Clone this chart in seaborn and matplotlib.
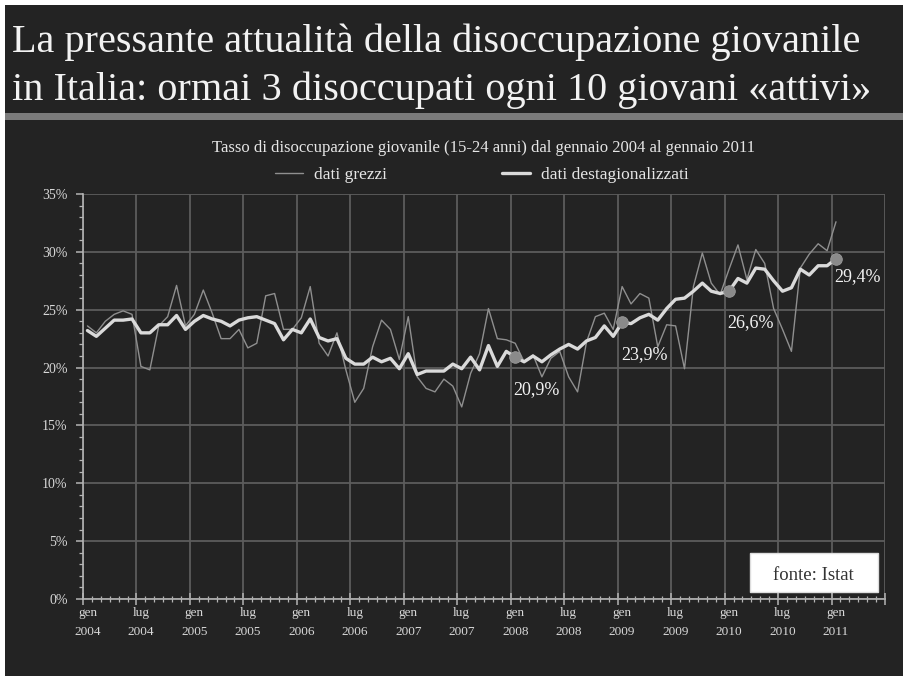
import numpy as np
import pandas as pd
import matplotlib
matplotlib.use("Agg")
import matplotlib.pyplot as plt
from matplotlib.patches import Rectangle
from matplotlib.ticker import MultipleLocator, FixedLocator, NullFormatter, FuncFormatter
import seaborn as sns

# ---------------- data ----------------
title_lines = ["La pressante attualità della disoccupazione giovanile",
               "in Italia: ormai 3 disoccupati ogni 10 giovani «attivi»"]
subtitle = "Tasso di disoccupazione giovanile (15-24 anni) dal gennaio 2004 al gennaio 2011"
series_names = ["dati grezzi", "dati destagionalizzati"]
source_note = "fonte: Istat"

month_abbr = ["gen", "feb", "mar", "apr", "mag", "giu",
              "lug", "ago", "set", "ott", "nov", "dic"]
start_year = 2004
axis_months = 90          # axis runs gen 2004 .. giu 2011
label_every = 6           # tick label every 6 months

raw = [23.6, 23.0, 24.0, 24.6, 24.9, 24.6, 20.1, 19.8, 23.6, 24.4, 27.1, 23.6,
       24.6, 26.7, 24.7, 22.5, 22.5, 23.3, 21.7, 22.1, 26.2, 26.4, 23.3, 23.3,
       24.3, 27.0, 22.1, 21.0, 23.0, 19.8, 17.0, 18.2, 21.8, 24.1, 23.3, 20.7,
       24.4, 19.2, 18.2, 17.9, 19.0, 18.4, 16.6, 19.5, 21.2, 25.1, 22.5, 22.4,
       22.1, 20.5, 21.1, 19.2, 20.8, 21.4, 19.2, 17.9, 22.2, 24.4, 24.7, 23.3,
       27.0, 25.5, 26.4, 26.0, 21.8, 23.7, 23.6, 19.9, 27.0, 29.9, 27.3, 26.3,
       28.5, 30.6, 27.6, 30.2, 29.0, 25.1, 23.3, 21.4, 28.6, 29.8, 30.7, 30.1,
       32.6]
destag = [23.2, 22.7, 23.4, 24.1, 24.1, 24.2, 23.0, 23.0, 23.7, 23.7, 24.5, 23.3,
          24.0, 24.5, 24.2, 24.0, 23.6, 24.1, 24.3, 24.4, 24.1, 23.8, 22.4, 23.3,
          23.0, 24.2, 22.6, 22.3, 22.5, 20.8, 20.3, 20.3, 20.9, 20.5, 20.8, 19.9,
          21.2, 19.4, 19.7, 19.7, 19.7, 20.3, 19.9, 20.9, 19.8, 21.9, 20.1, 21.4,
          20.9, 20.5, 21.0, 20.5, 21.1, 21.6, 22.0, 21.6, 22.3, 22.6, 23.6, 22.7,
          23.9, 23.8, 24.3, 24.6, 24.1, 25.1, 25.9, 26.0, 26.6, 27.3, 26.6, 26.4,
          26.6, 27.7, 27.3, 28.6, 28.5, 27.5, 26.6, 26.9, 28.5, 28.0, 28.8, 28.8,
          29.4]
highlight_months = ["gen 2008", "gen 2009", "gen 2010", "gen 2011"]

# ---------------- derived tables ----------------
month_names = [f"{month_abbr[i % 12]} {start_year + i // 12}" for i in range(len(raw))]
df = pd.DataFrame({
    "mese": month_names * 2,
    "pos": list(range(len(raw))) * 2,
    "valore": raw + destag,
    "serie": [series_names[0]] * len(raw) + [series_names[1]] * len(destag),
})
hl = df[(df["serie"] == series_names[1]) & (df["mese"].isin(highlight_months))].copy()
hl["label"] = hl["valore"].map(lambda v: f"{v:.1f}".replace(".", ",") + "%")

# ---------------- style ----------------
BG = "#232323"
sns.set_style("dark", {"axes.facecolor": BG, "figure.facecolor": BG})
plt.rcParams["font.family"] = ["Liberation Serif", "DejaVu Serif"]
plt.rcParams["axes.unicode_minus"] = False

fig = plt.figure(figsize=(9.04, 6.76), dpi=100)
fig.patch.set_facecolor(BG)
ax = fig.add_axes([83 / 904, 1 - 599 / 676, (885 - 83) / 904, (599 - 194) / 676])
ax.set_facecolor(BG)

raw_col = "#8f8f8f"
des_col = "#dadada"
sns.lineplot(data=df[df["serie"] == series_names[0]], x="pos", y="valore",
             color=raw_col, linewidth=1.0, ax=ax, label=series_names[0])
sns.lineplot(data=df[df["serie"] == series_names[1]], x="pos", y="valore",
             color=des_col, linewidth=2.4, ax=ax, label=series_names[1])
sns.scatterplot(data=hl, x="pos", y="valore", color="#8a8a8a", s=70,
                edgecolor="#9a9a9a", linewidth=0.6, ax=ax, zorder=5, legend=False)

label_offsets = [(-1.5, -23), (-0.5, -23), (-1.5, -22.5), (-1.5, -13)]
for (_, r), off in zip(hl.iterrows(), label_offsets):
    ax.annotate(r["label"], xy=(r["pos"], r["valore"]), xytext=off,
                textcoords="offset points", ha="left", va="center",
                fontsize=13, color="#f2f2f2")

# axes
ax.set_xlim(-0.5, axis_months - 0.5)
ax.set_ylim(0, 35)
ax.set_xlabel("")
ax.set_ylabel("")
ax.xaxis.set_major_locator(FixedLocator(np.arange(0, axis_months + 1, label_every) - 0.5))
ax.xaxis.set_major_formatter(NullFormatter())
ax.xaxis.set_minor_locator(FixedLocator(np.arange(0, axis_months + 1) - 0.5))
ax.yaxis.set_major_locator(MultipleLocator(5))
ax.yaxis.set_minor_locator(MultipleLocator(1))
ax.yaxis.set_major_formatter(FuncFormatter(lambda v, p: f"{v:.0f}%"))
ax.grid(True, which="major", color="#5c5c5c", linewidth=1.3)
ax.grid(False, which="minor")
for s in ["top", "right"]:
    ax.spines[s].set_visible(False)
for s in ["left", "bottom"]:
    ax.spines[s].set_visible(True)
    ax.spines[s].set_color("#b5b5b5")
    ax.spines[s].set_linewidth(1.2)
ax.tick_params(axis="y", which="major", direction="out", length=5, width=1.1,
               color="#b5b5b5", labelsize=10, labelcolor="#d8d8d8", pad=6, left=True)
ax.tick_params(axis="y", which="minor", direction="out", length=3, width=0.9,
               color="#b5b5b5", left=True)
ax.tick_params(axis="x", which="major", direction="inout", length=9, width=1.1,
               color="#b5b5b5", bottom=True)
ax.tick_params(axis="x", which="minor", direction="inout", length=5, width=0.9,
               color="#b5b5b5", bottom=True)

label_pos = list(range(0, len(raw), label_every))
sec = ax.secondary_xaxis("bottom")
sec.set_xticks(label_pos)
sec.set_xticklabels([f"{month_abbr[i % 12]}\n{start_year + i // 12}" for i in label_pos],
                    fontsize=9.5, color="#d8d8d8", linespacing=1.75)
sec.tick_params(length=0, pad=6)
sec.spines["bottom"].set_visible(False)

# legend
leg = ax.legend(ncol=2, loc="center", bbox_to_anchor=(482 / 904, 1 - 175 / 676),
                bbox_transform=fig.transFigure, frameon=False, fontsize=12.5,
                handlelength=1.6, handletextpad=0.65, columnspacing=6.6,
                labelcolor="#e6e6e6")

# source box
ax.add_patch(Rectangle((0.8317, 0.0173), 0.159, 0.0963, transform=ax.transAxes,
                       facecolor="white", edgecolor="#dddddd", linewidth=1, zorder=6))
ax.text(0.911, 0.058, source_note, transform=ax.transAxes, ha="center", va="center",
        fontsize=13.5, color="#333333", zorder=7)

# titles
fig.text(12 / 904, 1 - 52 / 676, title_lines[0], ha="left", va="baseline",
         fontsize=29, color="#f2f2f2")
fig.text(12 / 904, 1 - 100 / 676, title_lines[1], ha="left", va="baseline",
         fontsize=29, color="#f2f2f2")
fig.text(484 / 904, 1 - 148 / 676, subtitle, ha="center", va="center",
         fontsize=12, color="#e6e6e6")

# decoration: separator band and light page border
fig.patches.append(Rectangle((5 / 904, 1 - 120 / 676), 1, 7 / 676,
                             transform=fig.transFigure, facecolor="#7b7b7b",
                             edgecolor="none", zorder=0))
fig.patches.append(Rectangle((0, 0), 5 / 904, 1, transform=fig.transFigure,
                             facecolor="white", edgecolor="none", zorder=0))
fig.patches.append(Rectangle((0, 1 - 5 / 676), 1, 5 / 676, transform=fig.transFigure,
                             facecolor="white", edgecolor="none", zorder=0))

fig.savefig("out.png", dpi=100, facecolor=BG)
